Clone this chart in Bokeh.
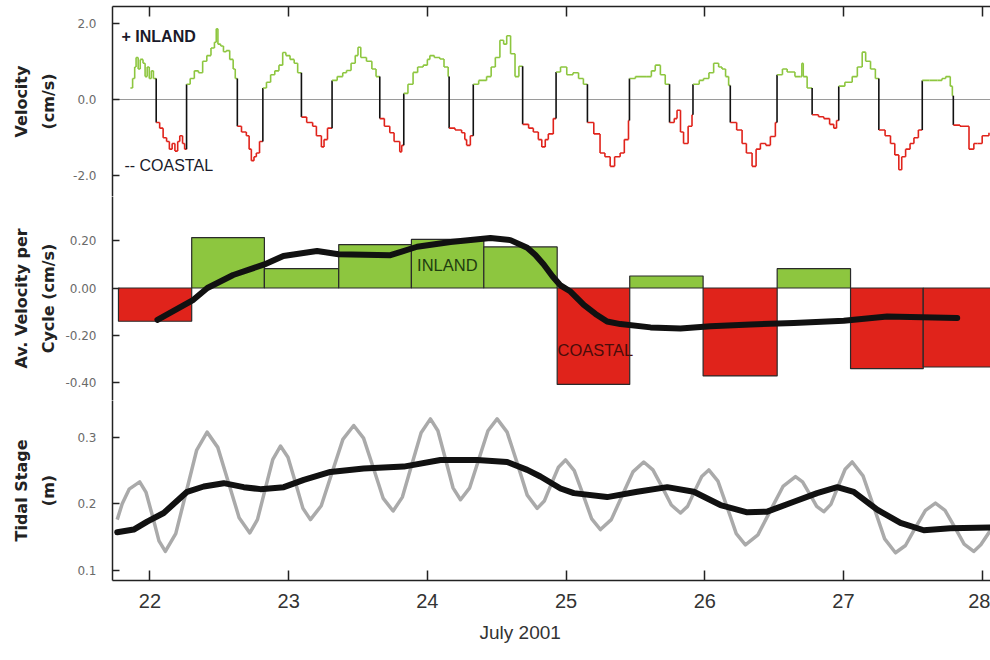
from bokeh.plotting import figure
from bokeh.layouts import column
from bokeh.models import Range1d, FixedTicker, PrintfTickFormatter, Label, Span, ColumnDataSource, Title
from bokeh.embed import file_html
from bokeh.resources import INLINE

# ---------------- data (July 2001, day of month) ----------------
day_ticks = [22, 23, 24, 25, 26, 27, 28]
x_title = "July 2001"

# Panel 1: velocity (cm/s), step series
vel_t = [21.859, 21.875, 21.890, 21.900, 21.915, 21.930, 21.950, 21.965, 21.980, 21.995, 22.010, 22.025,
         22.045, 22.070, 22.095, 22.120, 22.140, 22.160, 22.180, 22.200, 22.215, 22.235, 22.250,
         22.264, 22.290, 22.320, 22.350, 22.380, 22.410, 22.440, 22.465, 22.478, 22.490, 22.510, 22.530,
         22.550, 22.575, 22.600, 22.615,
         22.630, 22.660, 22.695, 22.715, 22.731, 22.750, 22.767, 22.790,
         22.814, 22.840, 22.870, 22.900, 22.930, 22.957, 22.980, 23.010, 23.040, 23.065,
         23.092, 23.130, 23.173, 23.200, 23.236, 23.255, 23.280,
         23.313, 23.350, 23.390, 23.417, 23.450, 23.480, 23.500, 23.520, 23.561, 23.600, 23.630,
         23.657, 23.690, 23.729, 23.760, 23.801, 23.815,
         23.830, 23.860, 23.897, 23.930, 23.970, 24.000, 24.018, 24.050, 24.090, 24.120, 24.150,
         24.157, 24.200, 24.247, 24.270, 24.283, 24.310,
         24.331, 24.370, 24.427, 24.460, 24.490, 24.523, 24.550, 24.572, 24.600, 24.632, 24.660,
         24.687, 24.730, 24.764, 24.800, 24.825, 24.850, 24.872, 24.908,
         24.928, 24.960, 25.005, 25.050, 25.090, 25.125,
         25.154, 25.200, 25.245, 25.280, 25.318, 25.350, 25.390, 25.420, 25.450,
         25.457, 25.500, 25.583, 25.615, 25.643, 25.680, 25.715,
         25.746, 25.780, 25.800, 25.825, 25.847, 25.880, 25.908,
         25.915, 25.960, 25.991, 26.030, 26.064, 26.100, 26.124, 26.150, 26.172,
         26.184, 26.230, 26.269, 26.300, 26.341, 26.370, 26.401, 26.440, 26.473, 26.509,
         26.521, 26.560, 26.594, 26.650, 26.690, 26.700, 26.710, 26.738,
         26.774, 26.820, 26.858, 26.900, 26.930, 26.950,
         26.966, 27.010, 27.063, 27.100, 27.135, 27.160, 27.195, 27.230,
         27.255, 27.300, 27.339, 27.370, 27.399, 27.420, 27.448, 27.480, 27.508, 27.540,
         27.568, 27.620, 27.677, 27.710, 27.737, 27.770, 27.785,
         27.792, 27.840, 27.869, 27.905, 27.940, 27.966, 28.000, 28.049]
vel_v = [0.30, 0.55, 0.85, 1.10, 0.80, 1.05, 0.95, 0.60, 0.85, 0.55, 0.75, 0.55,
         -0.60, -0.75, -1.00, -1.10, -1.30, -1.15, -1.35, -1.10, -0.95, -1.15, -1.30,
         0.40, 0.55, 0.75, 0.70, 1.00, 1.15, 1.35, 1.50, 1.85, 1.45, 1.40, 1.25,
         1.28, 1.05, 0.80, 0.55,
         -0.70, -0.85, -0.95, -1.30, -1.60, -1.50, -1.40, -1.10,
         0.30, 0.45, 0.65, 0.75, 0.90, 1.23, 1.15, 1.05, 0.95, 0.70,
         -0.46, -0.60, -0.70, -0.95, -1.24, -1.05, -0.75,
         0.50, 0.60, 0.70, 0.76, 0.95, 1.15, 1.37, 1.10, 1.00, 0.80, 0.60,
         -0.50, -0.70, -0.87, -1.10, -1.37, -1.20,
         0.16, 0.40, 0.71, 0.85, 0.90, 1.05, 1.15, 1.10, 1.06, 0.85, 0.60,
         -0.75, -0.80, -0.87, -1.05, -1.20, -0.95,
         0.40, 0.50, 0.60, 0.85, 1.10, 1.55, 1.45, 1.67, 1.20, 0.60, 0.87,
         -0.65, -0.75, -0.85, -1.05, -1.24, -1.05, -0.90, -0.50,
         0.72, 0.85, 0.65, 0.70, 0.55, 0.40,
         -0.60, -0.90, -1.40, -1.50, -1.75, -1.50, -1.40, -1.05, -0.55,
         0.55, 0.60, 0.60, 0.75, 0.90, 0.65, 0.40,
         -0.60, -0.50, -0.28, -0.85, -1.15, -0.70, -0.40,
         0.40, 0.50, 0.55, 0.70, 0.95, 0.85, 0.80, 0.60, 0.37,
         -0.60, -0.80, -1.15, -1.40, -1.75, -1.30, -1.15, -1.20, -0.97, -0.60,
         0.65, 0.80, 0.72, 0.60, 0.60, 0.95, 0.60, 0.30,
         -0.40, -0.45, -0.50, -0.65, -0.75, -0.55,
         0.35, 0.45, 0.60, 0.85, 1.24, 1.00, 0.80, 0.55,
         -0.80, -0.95, -1.15, -1.45, -1.84, -1.50, -1.30, -1.15, -1.00, -0.80,
         0.50, 0.50, 0.50, 0.55, 0.60, 0.35, 0.10,
         -0.67, -0.70, -0.70, -1.30, -1.15, -1.15, -0.95, -0.87]
vel_ticks = [-2.0, 0.0, 2.0]

# Panel 2: average velocity per tidal cycle (cm/s)
cycle_start = [21.773, 22.301, 22.825, 23.361, 23.885, 24.407, 24.936, 25.459, 25.988, 26.522, 27.051, 27.575]
cycle_end = [22.301, 22.825, 23.361, 23.885, 24.407, 24.936, 25.459, 25.988, 26.522, 27.051, 27.575, 28.100]
cycle_avg = [-0.141, 0.214, 0.082, 0.184, 0.206, 0.174, -0.409, 0.051, -0.373, 0.082, -0.342, -0.335]
avg_smooth_t = [22.054, 22.313, 22.414, 22.600, 22.825, 22.962, 23.205, 23.359, 23.734, 23.926, 24.167,
                24.455, 24.599, 24.720, 24.779, 24.839, 24.902, 24.960, 25.032, 25.128, 25.212, 25.296,
                25.392, 25.609, 25.825, 26.041, 26.329, 26.642, 27.002, 27.315, 27.820]
avg_smooth_v = [-0.135, -0.050, 0.000, 0.055, 0.100, 0.136, 0.157, 0.143, 0.139, 0.175, 0.195,
                0.212, 0.203, 0.171, 0.140, 0.100, 0.050, 0.011, -0.015, -0.072, -0.110, -0.142,
                -0.153, -0.167, -0.172, -0.162, -0.155, -0.148, -0.139, -0.121, -0.127]
avg_ticks = [-0.4, -0.2, 0.0, 0.2]

# Panel 3: tidal stage (m)
tide_t = [21.764, 21.800, 21.850, 21.926, 21.972, 22.019, 22.065, 22.111, 22.186, 22.262, 22.337,
          22.412, 22.489, 22.566, 22.643, 22.720, 22.775, 22.831, 22.886, 22.941, 22.995, 23.049,
          23.103, 23.157, 23.235, 23.313, 23.391, 23.469, 23.540, 23.611, 23.682, 23.753, 23.820,
          23.888, 23.955, 24.022, 24.076, 24.131, 24.185, 24.239, 24.305, 24.371, 24.437, 24.503,
          24.575, 24.648, 24.720, 24.792, 24.843, 24.894, 24.945, 24.996, 25.059, 25.122, 25.185,
          25.248, 25.326, 25.404, 25.482, 25.560, 25.626, 25.693, 25.759, 25.825, 25.876, 25.927,
          25.978, 26.029, 26.095, 26.161, 26.227, 26.293, 26.383, 26.474, 26.564, 26.654, 26.705,
          26.756, 26.807, 26.858, 26.909, 26.961, 27.012, 27.063, 27.141, 27.219, 27.297, 27.375,
          27.447, 27.519, 27.591, 27.663, 27.732, 27.801, 27.870, 27.939, 27.990, 28.060]
tide_v = [0.176, 0.200, 0.222, 0.233, 0.217, 0.181, 0.144, 0.128, 0.155, 0.218, 0.281,
          0.308, 0.285, 0.232, 0.179, 0.156, 0.176, 0.222, 0.267, 0.287, 0.270, 0.232,
          0.193, 0.176, 0.197, 0.247, 0.297, 0.318, 0.299, 0.254, 0.208, 0.189, 0.210,
          0.259, 0.307, 0.328, 0.310, 0.267, 0.224, 0.206, 0.224, 0.267, 0.310, 0.328,
          0.308, 0.261, 0.213, 0.193, 0.204, 0.230, 0.255, 0.266, 0.250, 0.214, 0.177,
          0.161, 0.176, 0.212, 0.248, 0.263, 0.251, 0.225, 0.198, 0.186, 0.196, 0.219,
          0.241, 0.251, 0.234, 0.195, 0.155, 0.138, 0.153, 0.190, 0.226, 0.241, 0.233,
          0.215, 0.196, 0.188, 0.199, 0.226, 0.252, 0.263, 0.242, 0.195, 0.147, 0.126,
          0.137, 0.164, 0.190, 0.201, 0.190, 0.165, 0.139, 0.128, 0.138, 0.160]
tide_smooth_t = [21.764, 21.883, 21.980, 22.099, 22.268, 22.388, 22.532, 22.676, 22.797, 22.965,
                 23.109, 23.301, 23.541, 23.830, 24.094, 24.359, 24.575, 24.720, 24.815, 24.960,
                 25.056, 25.296, 25.513, 25.729, 25.921, 26.113, 26.306, 26.450, 26.642, 26.810,
                 26.955, 27.074, 27.243, 27.411, 27.579, 27.771, 28.060]
tide_smooth_v = [0.157, 0.161, 0.173, 0.186, 0.218, 0.226, 0.231, 0.225, 0.222, 0.225,
                 0.236, 0.248, 0.253, 0.256, 0.266, 0.266, 0.263, 0.251, 0.241, 0.223,
                 0.216, 0.210, 0.218, 0.225, 0.218, 0.198, 0.187, 0.188, 0.203, 0.216,
                 0.225, 0.218, 0.191, 0.171, 0.160, 0.163, 0.164]
tide_ticks = [0.1, 0.2, 0.3]

# ---------------- styling ----------------
GREEN = "#8dc63f"
RED = "#e0231b"
BLACK = "#111111"
AXIS = "#222222"
SANS = "Liberation Sans"

x_range = Range1d(21.73, 28.06)
W = 990
LEFT = 112


def base(height, y_range, xloc, top=0, bottom=0):
    p = figure(width=W, height=height, x_range=x_range, y_range=y_range,
               x_axis_location=xloc, output_backend="svg", toolbar_location=None,
               min_border_left=LEFT, min_border_right=0, min_border_top=top,
               min_border_bottom=bottom)
    p.outline_line_color = None
    p.xgrid.visible = False
    p.ygrid.visible = False
    p.background_fill_color = "white"
    p.border_fill_color = "white"
    return p


def style_y(p, ticks, fmt, label, standoff):
    ax = p.yaxis[0]
    ax.ticker = FixedTicker(ticks=ticks)
    ax.formatter = PrintfTickFormatter(format=fmt)
    ax.axis_line_color = AXIS
    ax.axis_line_width = 1.5
    ax.major_tick_line_color = AXIS
    ax.major_tick_line_width = 1.5
    ax.major_tick_in = 7
    ax.major_tick_out = 0
    ax.minor_tick_line_color = None
    ax.major_label_standoff = 16
    ax.major_label_text_font = "DejaVu Sans"
    ax.major_label_text_font_size = "12px"
    ax.major_label_text_color = "#6a6a6a"
    ax.axis_label = label
    ax.axis_label_text_font = "DejaVu Sans"
    ax.axis_label_text_font_style = "bold"
    ax.axis_label_text_font_size = "16px"
    ax.axis_label_text_color = AXIS
    ax.axis_label_text_line_height = 1.45
    ax.axis_label_standoff = standoff


def style_x(ax, show_labels):
    ax.ticker = FixedTicker(ticks=day_ticks)
    ax.formatter = PrintfTickFormatter(format="%d")
    ax.axis_line_color = AXIS
    ax.axis_line_width = 1.5
    ax.major_tick_line_color = AXIS
    ax.major_tick_line_width = 1.5
    ax.major_tick_in = 10
    ax.major_tick_out = 0
    ax.minor_tick_line_color = None
    if show_labels:
        ax.major_label_standoff = 13
        ax.major_label_text_font = SANS
        ax.major_label_text_font_size = "20px"
        ax.major_label_text_color = "#333333"
    else:
        ax.major_label_standoff = 0
        ax.major_label_text_color = None


# ---------------- panel 1: velocity ----------------
p1 = base(196, Range1d(-2.539, 2.435), "above", top=6)
style_y(p1, vel_ticks, "%.1f", "Velocity\n(cm/s)", 12)
style_x(p1.xaxis[0], False)
p1.add_layout(Span(location=0, dimension="width", line_color="#9a9a9a", line_width=1.2, level="underlay"))

sx0, sx1, sy0, sy1, sc = [], [], [], [], []
for i in range(len(vel_t) - 1):
    t0, t1 = vel_t[i], vel_t[i + 1]
    v0, v1 = vel_v[i], vel_v[i + 1]
    c = GREEN if v0 > 0 else RED
    sx0.append(t0); sx1.append(t1); sy0.append(v0); sy1.append(v0); sc.append(c)
    sx0.append(t1); sx1.append(t1); sy0.append(v0); sy1.append(v1)
    sc.append(BLACK if v0 * v1 < 0 else c)
seg_src = ColumnDataSource(dict(x0=sx0, x1=sx1, y0=sy0, y1=sy1, c=sc))
p1.segment(x0="x0", y0="y0", x1="x1", y1="y1", color="c", line_width=1.6, source=seg_src)

p1.add_layout(Label(x=21.795, y=1.65, text="+ INLAND", text_baseline="middle",
                    text_font=SANS, text_font_style="bold", text_font_size="16px", text_color="#1a1a2a"))
p1.add_layout(Label(x=21.816, y=-1.74, text="-- COASTAL", text_baseline="middle",
                    text_font=SANS, text_font_size="16px", text_color="#1a1a2a"))

# ---------------- panel 2: average velocity per cycle ----------------
p2 = base(204, Range1d(-0.477, 0.388), None)
style_y(p2, avg_ticks, "%.2f", "Av. Velocity per\nCycle (cm/s)", 4)
bar_colors = [GREEN if v > 0 else RED for v in cycle_avg]
bar_src = ColumnDataSource(dict(left=cycle_start, right=cycle_end, top=cycle_avg,
                                bottom=[0] * len(cycle_avg), c=bar_colors))
p2.quad(left="left", right="right", top="top", bottom="bottom", fill_color="c",
        line_color="#2a2a2a", line_width=1.2, source=bar_src)
p2.line(avg_smooth_t, avg_smooth_v, line_color=BLACK, line_width=6, line_join="round", line_cap="round")
p2.add_layout(Label(x=23.926, y=0.096, text="INLAND", text_baseline="middle",
                    text_font=SANS, text_font_size="16.5px", text_color="#1f3d10"))
p2.add_layout(Label(x=24.938, y=-0.264, text="COASTAL", text_baseline="middle",
                    text_font=SANS, text_font_size="16.5px", text_color="#4a0d0a"))

# ---------------- panel 3: tidal stage ----------------
p3 = base(252, Range1d(0.0842, 0.3557), "below", bottom=71)
style_y(p3, tide_ticks, "%.1f", "Tidal Stage\n(m)", 16)
style_x(p3.xaxis[0], True)
p3.line(tide_t, tide_v, line_color="#aaaaaa", line_width=3.5, line_join="round")
p3.line(tide_smooth_t, tide_smooth_v, line_color=BLACK, line_width=6, line_join="round", line_cap="round")
p3.add_layout(Title(text=x_title, align="left", offset=367, standoff=19,
                    text_font=SANS, text_font_style="normal", text_font_size="19px",
                    text_color="#333333"), "below")

layout = column(p1, p2, p3, spacing=0)
open("out.html", "w").write(file_html(layout, INLINE))
